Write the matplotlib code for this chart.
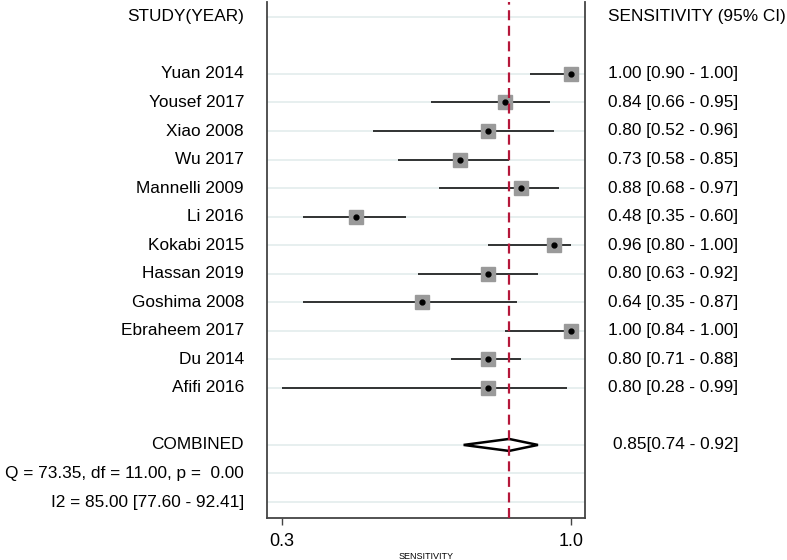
import numpy as np
import matplotlib
matplotlib.use('Agg')
import matplotlib.pyplot as plt

plt.rcParams['font.family'] = ['Liberation Sans', 'DejaVu Sans']

# study data
studies = ['Yuan 2014', 'Yousef 2017', 'Xiao 2008', 'Wu 2017', 'Mannelli 2009', 'Li 2016',
           'Kokabi 2015', 'Hassan 2019', 'Goshima 2008', 'Ebraheem 2017', 'Du 2014', 'Afifi 2016']
sens = [1.00, 0.84, 0.80, 0.73, 0.88, 0.48, 0.96, 0.80, 0.64, 1.00, 0.80, 0.80]
lower = [0.90, 0.66, 0.52, 0.58, 0.68, 0.35, 0.80, 0.63, 0.35, 0.84, 0.71, 0.28]
upper = [1.00, 0.95, 0.96, 0.85, 0.97, 0.60, 1.00, 0.92, 0.87, 1.00, 0.88, 0.99]
pooled = 0.85
pooled_lo = 0.74
pooled_hi = 0.92
q_text = 'Q = 73.35, df = 11.00, p =  0.00'
i2_text = 'I2 = 85.00 [77.60 - 92.41]'
xticks = [0.3, 1.0]

fs = 12.4
fig = plt.figure(figsize=(7.87, 5.6), dpi=100)
ax = fig.add_axes([267 / 787, 42 / 560, 318 / 787, 516 / 560])

rows = np.arange(len(studies)) + 2
comb_row = rows[-1] + 2
grid_rows = [0] + list(rows) + [comb_row, comb_row + 1, comb_row + 2]
for r in grid_rows:
    ax.axhline(r, color='#e3ecec', lw=1.2, zorder=0)

lo_clip = np.clip(lower, xticks[0], None)
ax.hlines(rows, lo_clip, upper, color='black', lw=1.1, zorder=2)
ax.plot(sens, rows, 's', ms=10, color='#9a9a9a', zorder=3)
ax.plot(sens, rows, 'o', ms=3.5, color='black', zorder=4)

# combined diamond
ax.fill([pooled_lo, pooled, pooled_hi, pooled],
        [comb_row, comb_row - 0.21, comb_row, comb_row + 0.21],
        facecolor='white', edgecolor='black', lw=1.8, zorder=3)
ax.axvline(pooled, color='#b5173a', lw=1.6, ls=(0, (4.5, 2.5)), zorder=5)

ax.set_xlim(0.2637, 1.034)
ax.set_ylim(comb_row + 2.56, -0.52)
ax.set_xticks(xticks)
ax.set_xticklabels(['0.3', '1.0'], fontsize=13)
ax.set_yticks([])
ax.set_xlabel('SENSITIVITY', fontsize=6.5, labelpad=1)
ax.spines['top'].set_visible(False)
for s in ['left', 'right', 'bottom']:
    ax.spines[s].set_color('#444444')
    ax.spines[s].set_linewidth(1.3)
ax.tick_params(axis='x', length=5, width=1, color='#444444', pad=6)

lt = ax.get_yaxis_transform()

# left column text
ax.text(-0.072, 0, 'STUDY(YEAR)', transform=lt, ha='right', va='center', fontsize=fs)
for r, s in zip(rows, studies):
    ax.text(-0.072, r, s, transform=lt, ha='right', va='center', fontsize=fs)
ax.text(-0.072, comb_row, 'COMBINED', transform=lt, ha='right', va='center', fontsize=fs)
ax.text(-0.072, comb_row + 1, q_text, transform=lt, ha='right', va='center', fontsize=fs)
ax.text(-0.072, comb_row + 2, i2_text, transform=lt, ha='right', va='center', fontsize=fs)

# right column text
ax.text(1.072, 0, 'SENSITIVITY (95% CI)', transform=lt, ha='left', va='center', fontsize=fs)
for r, v, lo, hi in zip(rows, sens, lower, upper):
    ax.text(1.072, r, f'{v:.2f} [{lo:.2f} - {hi:.2f}]', transform=lt,
            ha='left', va='center', fontsize=fs)
ax.text(1.087, comb_row, f'{pooled:.2f}[{pooled_lo:.2f} - {pooled_hi:.2f}]',
        transform=lt, ha='left', va='center', fontsize=fs)

fig.savefig('out.png', dpi=100)
